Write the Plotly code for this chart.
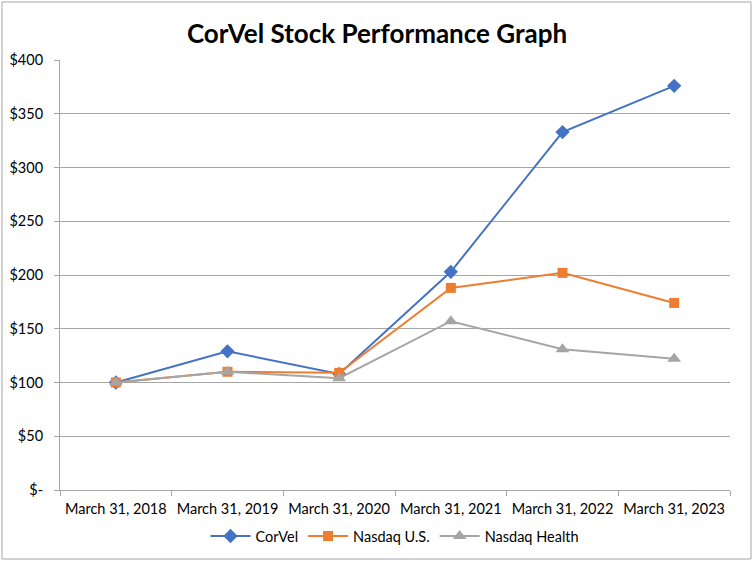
import plotly.graph_objects as go

dates = ['March 31, 2018', 'March 31, 2019', 'March 31, 2020',
         'March 31, 2021', 'March 31, 2022', 'March 31, 2023']
corvel = [100, 129, 108, 203, 333, 376]
nasdaq_us = [100, 110, 109, 188, 202, 174]
nasdaq_health = [100, 110, 104, 157, 131, 122]

y_ticks = [0, 50, 100, 150, 200, 250, 300, 350, 400]
y_labels = ['$-', '$50', '$100', '$150', '$200', '$250', '$300', '$350', '$400']

FONT = 'Lato'

fig = go.Figure()
fig.add_trace(go.Scatter(x=dates, y=corvel, name='CorVel', mode='lines+markers',
                         line=dict(color='#4472C4', width=2),
                         marker=dict(symbol='diamond', size=11, color='#4472C4')))
fig.add_trace(go.Scatter(x=dates, y=nasdaq_us, name='Nasdaq U.S.', mode='lines+markers',
                         line=dict(color='#ED7D31', width=2),
                         marker=dict(symbol='square', size=10, color='#ED7D31')))
fig.add_trace(go.Scatter(x=dates, y=nasdaq_health, name='Nasdaq Health', mode='lines+markers',
                         line=dict(color='#A5A5A5', width=2),
                         marker=dict(symbol='triangle-up', size=12, color='#A5A5A5')))

fig.update_layout(
    width=754, height=564,
    margin=dict(l=60, r=24, t=60, b=74, autoexpand=False),
    paper_bgcolor='white', plot_bgcolor='white',
    font=dict(family=FONT, size=14.5, color='#000000'),
    title=dict(text='<b>CorVel Stock Performance Graph</b>', x=0.5, xanchor='center',
               y=0.94, yanchor='middle', font=dict(family=FONT, size=26, color='#000000')),
    showlegend=True,
    legend=dict(orientation='h', x=0.5, xanchor='center', y=-0.07, yanchor='top',
                font=dict(size=14.5), itemwidth=40),
    xaxis=dict(type='category', range=[-0.5, 5.5], tickson='boundaries', ticks='outside',
               ticklen=5, tickcolor='#a6a6a6', showline=True, linecolor='#a6a6a6',
               linewidth=1, showgrid=False, tickfont=dict(size=14.5), ticklabelstandoff=6),
    yaxis=dict(range=[0, 400], tickvals=y_ticks, ticktext=y_labels, ticks='outside',
               ticklen=5, tickcolor='#a6a6a6', showline=True, linecolor='#a6a6a6',
               gridcolor='#a6a6a6', gridwidth=1, zeroline=False, tickfont=dict(size=14.5),
               ticklabelstandoff=8),
    shapes=[dict(type='rect', xref='paper', yref='paper',
                 x0=(2 - 60) / 670, x1=(751 - 60) / 670,
                 y0=(490 - 559) / 430, y1=(490 - 2) / 430,
                 line=dict(color='#a6a6a6', width=1), fillcolor='rgba(0,0,0,0)',
                 layer='below')],
)

fig.write_html('out.html', config={'displayModeBar': False},
               post_script="document.body.style.margin='0';")
